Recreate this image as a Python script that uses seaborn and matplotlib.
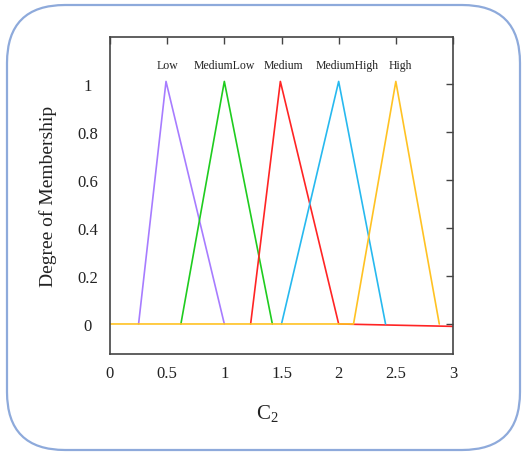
import matplotlib
matplotlib.use("Agg")
import matplotlib.pyplot as plt
from matplotlib.patches import FancyBboxPatch
from matplotlib.transforms import IdentityTransform
import seaborn as sns
import pandas as pd

# membership functions (x, degree)
low_x = [0.25, 0.49, 1.0]
low_y = [0.0, 1.01, 0.0]
medlow_x = [0.62, 1.0, 1.42]
medlow_y = [0.0, 1.01, 0.0]
medium_x = [1.23, 1.49, 2.0, 3.0]
medium_y = [0.0, 1.01, 0.0, -0.01]
medhigh_x = [1.5, 2.0, 2.41]
medhigh_y = [0.0, 1.01, 0.0]
high_x = [0.0, 2.13, 2.5, 2.88]
high_y = [0.0, 0.0, 1.01, 0.0]

names = ["Low", "MediumLow", "Medium", "MediumHigh", "High"]
label_x = [0.5, 1.0, 1.52, 2.07, 2.54]
colors = ["#a77cff", "#1fcc1f", "#ff2424", "#27b9ef", "#ffc223"]

xs = [low_x, medlow_x, medium_x, medhigh_x, high_x]
ys = [low_y, medlow_y, medium_y, medhigh_y, high_y]
rows = []
for n, xx, yy in zip(names, xs, ys):
    for i, (a, b) in enumerate(zip(xx, yy)):
        rows.append({"set": n, "order": i, "x": a, "y": b})
df = pd.DataFrame(rows)

sns.set_theme(style="white")
plt.rcParams["font.family"] = ["Liberation Serif", "DejaVu Serif"]
plt.rcParams["mathtext.default"] = "regular"

fig = plt.figure(figsize=(5.24, 4.56), dpi=100)
ax = fig.add_axes([110 / 524, 1 - 355 / 456, 343 / 524, 317 / 456])

sns.lineplot(data=df, x="x", y="y", hue="set", hue_order=names,
             palette=colors, sort=False, estimator=None, units="set",
             linewidth=1.2, legend=False, ax=ax)

for n, lx in zip(names, label_x):
    ax.text(lx, 1.08, n, ha="center", va="center", fontsize=8.5, color="#222222")

ax.set_xlim(0, 3)
ax.set_ylim(-0.125, 1.195)
ax.set_xticks([0, 0.5, 1, 1.5, 2, 2.5, 3])
ax.set_xticklabels(["0", "0.5", "1", "1.5", "2", "2.5", "3"])
ax.set_yticks([0, 0.2, 0.4, 0.6, 0.8, 1])
ax.set_yticklabels(["0", "0.2", "0.4", "0.6", "0.8", "1"])
ax.tick_params(direction="in", length=5, width=1, color="#444444",
               top=True, right=True, labelsize=12, labelcolor="#222222")
ax.tick_params(axis="x", pad=8)
ax.tick_params(axis="y", pad=16)
for lab in ax.get_yticklabels():
    lab.set_horizontalalignment("center")
for s in ax.spines.values():
    s.set_color("#444444")
    s.set_linewidth(1.2)

ax.set_xlabel("C$_2$", fontsize=15, color="#222222")
ax.set_ylabel("Degree of Membership", fontsize=14, color="#222222")
ax.xaxis.set_label_coords(0.458, -0.15)
ax.yaxis.set_label_coords(-0.155, 0.5)

frame = FancyBboxPatch((7, 5), 513, 445, boxstyle="round,pad=0,rounding_size=58",
                       transform=IdentityTransform(), facecolor="none",
                       edgecolor="#8eaadb", linewidth=1.6, zorder=-1)
fig.patches.append(frame)

fig.savefig("out.png", dpi=100)
